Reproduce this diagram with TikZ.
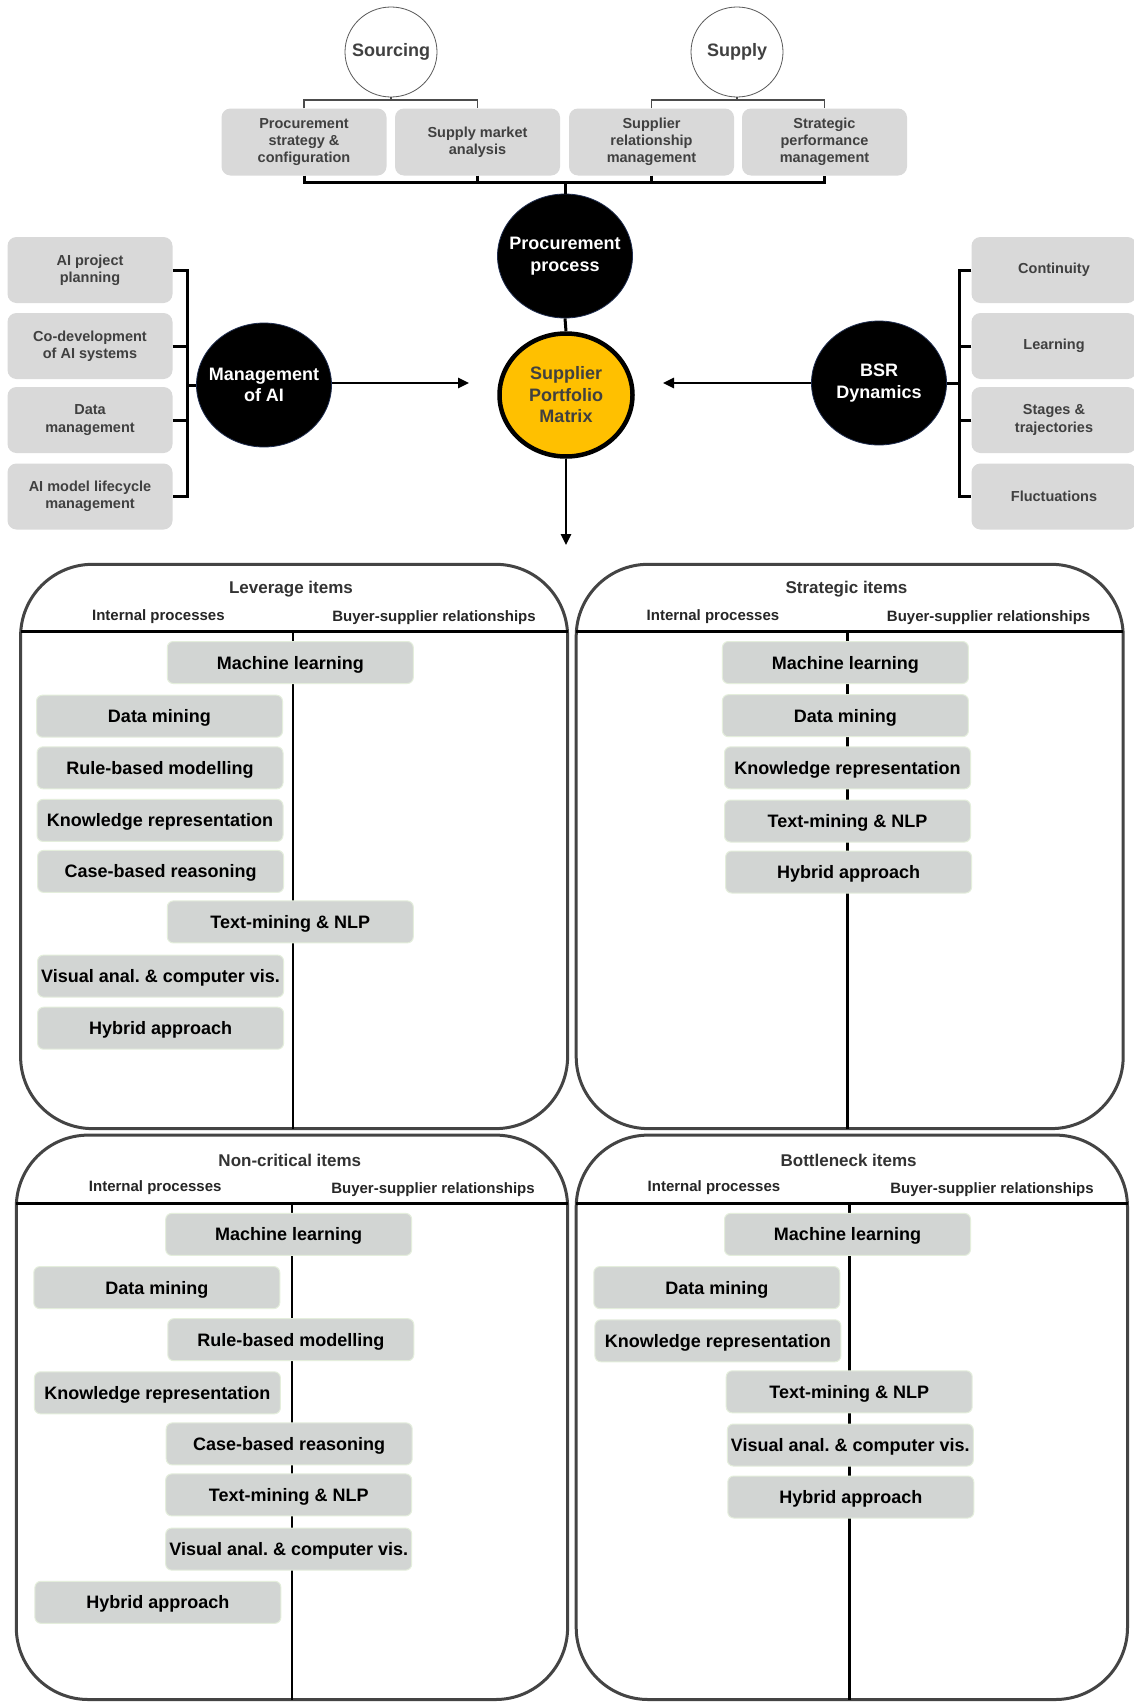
\documentclass[tikz,border=0pt]{standalone}
\usepackage{fontspec}
\setmainfont{Liberation Sans}
\usetikzlibrary{shapes.geometric,arrows.meta}
\frenchspacing

\definecolor{boxgray}{HTML}{D9D9D9}
\definecolor{techgray}{HTML}{D2D5D3}
\definecolor{techedge}{HTML}{E4EEDC}
\definecolor{txtgray}{HTML}{404040}
\definecolor{gold}{HTML}{FFC000}
\definecolor{rim}{HTML}{1F2D4F}
\definecolor{quadrim}{HTML}{444444}

\begin{document}
\begin{tikzpicture}[x=1pt,y=-1pt,
  procbox/.style={fill=boxgray, rounded corners=9pt, minimum width=165pt,
    minimum height=67pt, align=center, text=txtgray, inner sep=2pt,
    font=\fontsize{14.5}{17.2}\selectfont\bfseries},
  sidebox/.style={procbox, minimum height=66pt},
  topic/.style={ellipse, draw=black!65, line width=0.8pt, fill=white,
    minimum width=92pt, minimum height=90pt, inner sep=-20pt, text=txtgray,
    font=\fontsize{18}{21}\selectfont\bfseries},
  hub/.style={ellipse, fill=black, draw=rim, line width=0.8pt, text=white,
    align=center, inner sep=-25pt, minimum width=135pt, minimum height=124pt,
    font=\fontsize{18}{21.5}\selectfont\bfseries},
  spm/.style={ellipse, fill=gold, draw=black, line width=4.5pt, text=txtgray,
    align=center, inner sep=-25pt, minimum width=133pt, minimum height=123pt,
    font=\fontsize{18}{21.5}\selectfont\bfseries},
  tech/.style={fill=techgray, draw=techedge, line width=1pt, rounded corners=6pt,
    minimum width=246pt, minimum height=42pt, inner sep=1pt, text=black,
    text height=13pt, text depth=0pt,
    font=\fontsize{18}{21}\selectfont\bfseries},
  quad/.style={draw=quadrim, line width=3pt, rounded corners=72pt},
  rule/.style={draw=black, line width=2.5pt},
  quadtitle/.style={text=black!80, font=\fontsize{17}{20}\selectfont\bfseries},
  colhead/.style={text=black!85, font=\fontsize{15}{18}\selectfont\bfseries},
  bracket/.style={draw=black, line width=3pt},
  thinbracket/.style={draw=black!70, line width=1.2pt},
  flow/.style={draw=black, line width=2.5pt, -{Triangle[length=11pt,width=10pt]}}
]
\useasboundingbox (0,0) rectangle (1134,1702);
\clip (0,0) rectangle (1134,1702);
\fill[white] (0,0) rectangle (1134,1702);

% ---------- procurement process ----------
\node[topic] (sourcing) at (391,52) {Sourcing};
\node[topic] (supply) at (737,52) {Supply};
\node[procbox] (pb1) at (304,142) {Procurement\\strategy \&\\configuration};
\node[procbox] (pb2) at (477.5,142) {Supply market\\analysis};
\node[procbox] (pb3) at (651.5,142) {Supplier\\relationship\\management};
\node[procbox] (pb4) at (824.5,142) {Strategic\\performance\\management};

\coordinate (sbar) at (0,100);
\draw[thinbracket] (pb1.north) -- (pb1.north |- sbar) -- (pb2.north |- sbar) -- (pb2.north);
\draw[thinbracket] (sourcing.south) -- (sourcing.south |- sbar);
\draw[thinbracket] (pb3.north) -- (pb3.north |- sbar) -- (pb4.north |- sbar) -- (pb4.north);
\draw[thinbracket] (supply.south) -- (supply.south |- sbar);

\coordinate (pbar) at (0,182);
\draw[bracket] (pb1.south) -- (pb1.south |- pbar) -- (pb4.south |- pbar) -- (pb4.south);
\draw[bracket] (pb2.south) -- (pb2.south |- pbar);
\draw[bracket] (pb3.south) -- (pb3.south |- pbar);

\node[hub] (pp) at (565,256) {Procurement\\process};
\draw[bracket] (pp.north |- pbar) -- (pp.north);

\node[spm] (spm) at (566,395) {Supplier\\Portfolio\\Matrix};
\draw[bracket] (pp.south) -- (spm.north);
\coordinate (down) at (566,545);
\draw[flow] (spm.south) -- (down);

% ---------- management of AI ----------
\node[hub] (moai) at (264,385) {Management\\of AI};
\coordinate (moaiend) at (469,383);
\draw[flow] (moai.east |- moaiend) -- (moaiend);

\node[sidebox] (ab1) at (90,270) {AI project\\planning};
\node[sidebox] (ab2) at (90,346) {Co-development\\of AI systems};
\node[sidebox] (ab3) at (90,420) {Data\\management};
\node[sidebox] (ab4) at (90,496.5) {AI model lifecycle\\management};
\coordinate (lbar) at (187,0);
\draw[bracket] (ab1.east) -- (ab1.east -| lbar) -- (ab4.east -| lbar) -- (ab4.east);
\draw[bracket] (ab2.east) -- (ab2.east -| lbar);
\draw[bracket] (ab3.east) -- (ab3.east -| lbar);
\draw[bracket] (moai.west -| lbar) -- (moai.west);

% ---------- BSR dynamics ----------
\node[hub] (bsr) at (879,383) {BSR\\Dynamics};
\coordinate (bsrend) at (663,383);
\draw[flow] (bsr.west) -- (bsrend);

\node[sidebox] (bd1) at (1054,270) {Continuity};
\node[sidebox] (bd2) at (1054,346) {Learning};
\node[sidebox] (bd3) at (1054,420) {Stages \&\\trajectories};
\node[sidebox] (bd4) at (1054,496.5) {Fluctuations};
\coordinate (rbar) at (959,0);
\draw[bracket] (bd1.west) -- (bd1.west -| rbar) -- (bd4.west -| rbar) -- (bd4.west);
\draw[bracket] (bd2.west) -- (bd2.west -| rbar);
\draw[bracket] (bd3.west) -- (bd3.west -| rbar);
\draw[bracket] (bsr.east) -- (bsr.east -| rbar);

% ---------- leverage items ----------
\draw[quad] (20.6,564.3) rectangle (567.6,1128.6);
\draw[rule] (20.6,631.6) -- (567.6,631.6);
\draw[rule] (293,631.6) -- (293,1128.6);
\node[quadtitle] (levT) at (291,589) {Leverage items};
\node[colhead] (levI) at (158.4,617) {Internal processes};
\node[colhead] (levB) at (434,618) {Buyer-supplier relationships};
\node[tech] (lev1) at (290.3,662.5) {Machine learning};
\node[tech] (lev2) at (159.5,716.2) {Data mining};
\node[tech] (lev3) at (160,767.8) {Rule-based modelling};
\node[tech] (lev4) at (160,820.4) {Knowledge representation};
\node[tech] (lev5) at (160.6,871.4) {Case-based reasoning};
\node[tech] (lev6) at (290.3,921.9) {Text-mining \& NLP};
\node[tech] (lev7) at (160.6,976.1) {Visual anal. \& computer vis.};
\node[tech] (lev8) at (160.6,1028.2) {Hybrid approach};

% ---------- strategic items ----------
\draw[quad] (576.2,564.3) rectangle (1123.2,1128.6);
\draw[rule] (576.2,631.6) -- (1123.2,631.6);
\draw[rule] (847.5,631.6) -- (847.5,1128.6);
\node[quadtitle] (strT) at (846.5,589) {Strategic items};
\node[colhead] (strI) at (713,617) {Internal processes};
\node[colhead] (strB) at (988.6,618) {Buyer-supplier relationships};
\node[tech] (str1) at (845.4,662.5) {Machine learning};
\node[tech] (str2) at (845.4,715.7) {Data mining};
\node[tech] (str3) at (847.5,767.8) {Knowledge representation};
\node[tech] (str4) at (847.5,821) {Text-mining \& NLP};
\node[tech] (str5) at (848.6,872) {Hybrid approach};

% ---------- non-critical items ----------
\draw[quad] (16.3,1135.1) rectangle (567.6,1699.5);
\draw[rule] (16.3,1203.5) -- (567.6,1203.5);
\draw[rule] (291.9,1203.5) -- (291.9,1699.5);
\node[quadtitle] (ncT) at (289.8,1160) {Non-critical items};
\node[colhead] (ncI) at (155.2,1188) {Internal processes};
\node[colhead] (ncB) at (433,1190) {Buyer-supplier relationships};
\node[tech] (nc1) at (288.7,1234.4) {Machine learning};
\node[tech] (nc2) at (156.8,1287.6) {Data mining};
\node[tech] (nc3) at (290.8,1339.7) {Rule-based modelling};
\node[tech] (nc4) at (157.4,1392.8) {Knowledge representation};
\node[tech] (nc5) at (289.2,1443.9) {Case-based reasoning};
\node[tech] (nc6) at (288.7,1494.9) {Text-mining \& NLP};
\node[tech] (nc7) at (288.7,1549.1) {Visual anal. \& computer vis.};
\node[tech] (nc8) at (157.9,1602.3) {Hybrid approach};

% ---------- bottleneck items ----------
\draw[quad] (576.2,1135.1) rectangle (1127.5,1699.5);
\draw[rule] (576.2,1203.5) -- (1127.5,1203.5);
\draw[rule] (849.7,1203.5) -- (849.7,1699.5);
\node[quadtitle] (btT) at (848.6,1160) {Bottleneck items};
\node[colhead] (btI) at (714,1188) {Internal processes};
\node[colhead] (btB) at (992,1190) {Buyer-supplier relationships};
\node[tech] (bt1) at (847.5,1234.4) {Machine learning};
\node[tech] (bt2) at (716.8,1287.6) {Data mining};
\node[tech] (bt3) at (717.9,1340.8) {Knowledge representation};
\node[tech] (bt4) at (849.2,1391.8) {Text-mining \& NLP};
\node[tech] (bt5) at (850.3,1445) {Visual anal. \& computer vis.};
\node[tech] (bt6) at (850.8,1497) {Hybrid approach};
\end{tikzpicture}
\end{document}
